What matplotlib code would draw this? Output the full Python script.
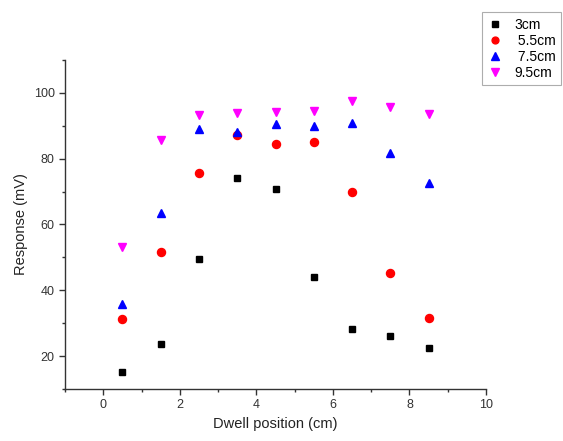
import matplotlib
matplotlib.use("Agg")
import matplotlib.pyplot as plt
from matplotlib.ticker import MultipleLocator

plt.rcParams['font.family'] = ['Liberation Sans', 'DejaVu Sans']

x = [0.5, 1.5, 2.5, 3.5, 4.5, 5.5, 6.5, 7.5, 8.5]
s3 = [15.2, 23.6, 49.4, 74.2, 70.9, 44.0, 28.2, 26.1, 22.4]
s55 = [31.2, 51.5, 75.8, 87.3, 84.5, 85.2, 70.0, 45.2, 31.5]
s75 = [35.8, 63.6, 89.1, 88.2, 90.6, 90.0, 90.9, 81.8, 72.7]
s95 = [53.3, 85.8, 93.3, 93.9, 94.2, 94.5, 97.6, 95.8, 93.6]
labels = ["3cm", " 5.5cm", " 7.5cm", "9.5cm"]

fig = plt.figure(figsize=(5.63, 4.41), dpi=100)
ax = fig.add_axes([65/563, 52/441, 421/563, 329/441])

ax.plot(x, s3, 's', color='black', ms=5, label=labels[0])
ax.plot(x, s55, 'o', color='red', ms=5.8, label=labels[1])
ax.plot(x, s75, '^', color='blue', ms=6.2, label=labels[2])
ax.plot(x, s95, 'v', color='magenta', ms=6.2, label=labels[3])

ax.set_xlim(-1, 10)
ax.set_ylim(10, 110)
ax.xaxis.set_major_locator(MultipleLocator(2))
ax.xaxis.set_minor_locator(MultipleLocator(1))
ax.yaxis.set_major_locator(MultipleLocator(20))
ax.yaxis.set_minor_locator(MultipleLocator(10))
ax.set_yticks([20, 40, 60, 80, 100])
ax.spines['top'].set_visible(False)
ax.spines['right'].set_visible(False)
for sp in ['left', 'bottom']:
    ax.spines[sp].set_color('#333333')
    ax.spines[sp].set_linewidth(1.0)
ax.tick_params(which='major', direction='out', length=4, width=1, labelsize=9, colors='#333333')
ax.tick_params(which='minor', direction='out', length=2.5, width=1, colors='#333333')
ax.set_xlabel("Dwell position (cm)", fontsize=10.5, color='#222222')
ax.set_ylabel("Response (mV)", fontsize=10.5, color='#222222')

leg = fig.legend(loc='upper left', bbox_to_anchor=(482/563, 1 - 12/441), frameon=True,
                 borderaxespad=0, fontsize=10, handlelength=1.0, handletextpad=0.9,
                 borderpad=0.4, labelspacing=0.15, markerscale=0.85,
                 fancybox=False, edgecolor='#999999')
leg.get_frame().set_linewidth(0.8)

fig.savefig("out.png", dpi=100)
